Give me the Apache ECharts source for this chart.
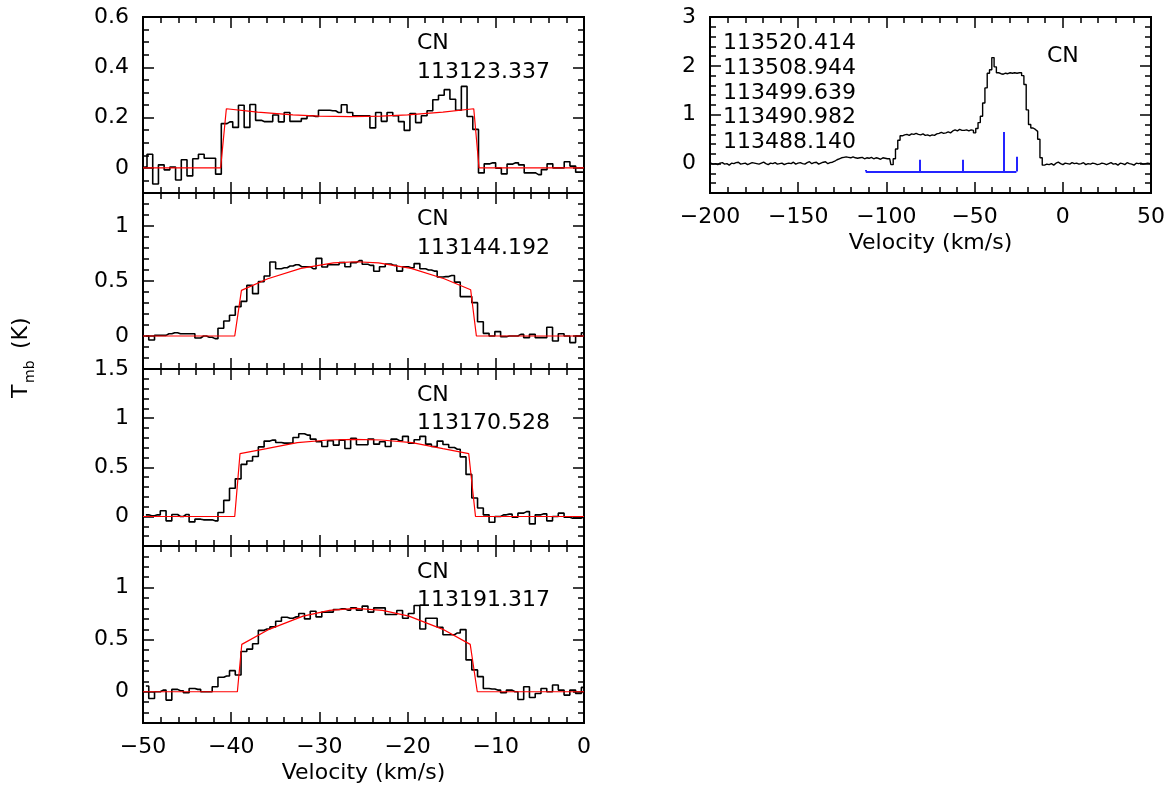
<!DOCTYPE html>
<html>
<head>
<meta charset="utf-8">
<script src="https://cdn.jsdelivr.net/npm/echarts@6/dist/echarts.min.js"></script>
<style>
  html, body { margin: 0; padding: 0; background: #fff; }
  #chart { width: 1169px; height: 789px; }
</style>
</head>
<body>
<div id="chart"></div>
<script>
// ---------------- data ----------------
// CN hyperfine lines, one spectrum per rest frequency (MHz), channels in km/s
const lineNames = ['113123.337', '113144.192', '113170.528', '113191.317'];

// first channel centre and channel width (km/s) for each spectrum
const chanStart = [-49.87, -49.675, -49.675, -49.675];
const chanWidth = [0.648, 0.654, 0.654, 0.654];

const spec113123 = [
  0.003, 0.054, -0.064, 0.012, -0.008, 0.003, -0.048, 0.032, -0.032, 0.036, 0.054, 0.038, 0.038, -0.025,
  0.176, 0.183, 0.161, 0.249, 0.161, 0.252, 0.189, 0.184, 0.184, 0.21, 0.183, 0.22, 0.185, 0.185, 0.196,
  0.207, 0.204, 0.229, 0.229, 0.227, 0.22, 0.251, 0.22, 0.207, 0.207, 0.207, 0.159, 0.22, 0.185, 0.22,
  0.207, 0.184, 0.149, 0.216, 0.18, 0.207, 0.227, 0.271, 0.289, 0.311, 0.273, 0.229, 0.324, 0.204, 0.153,
  -0.02, 0.016, 0.02, -0.001, -0.024, 0.015, 0.02, 0.012, -0.02, -0.02, -0.027, -0.007, 0.016, 0.0, 0.0,
  0.024, 0.007, -0.017, -0.017
];
const spec113144 = [
  0.0, -0.036, 0.006, 0.006, 0.02, 0.03, 0.02, 0.02, 0.02, -0.018, 0.0, -0.012, -0.024,
  0.07, 0.136, 0.188, 0.267, 0.315, 0.46, 0.385, 0.494, 0.545, 0.673, 0.612, 0.62, 0.636, 0.648, 0.63,
  0.63, 0.612, 0.706, 0.627, 0.648, 0.648, 0.667, 0.63, 0.667, 0.685, 0.652, 0.642, 0.588, 0.63, 0.655,
  0.642, 0.59, 0.63, 0.62, 0.658, 0.612, 0.6, 0.59, 0.536, 0.54, 0.55, 0.49, 0.358, 0.358, 0.303, 0.13, 0.024,
  0.0, 0.04, -0.006, 0.0, 0.0, 0.015, -0.015, 0.015, -0.015, -0.015, 0.08, -0.045, 0.02, 0.0, -0.06, 0.0, 0.03
];
const spec113170 = [
  0.017, 0.007, 0.017, 0.058, -0.044, 0.02, 0.0, 0.02, -0.055, -0.027, -0.034, -0.034, -0.044,
  0.04, 0.164, 0.287, 0.383, 0.53, 0.565, 0.61, 0.708, 0.767, 0.777, 0.753, 0.746, 0.746, 0.804, 0.842,
  0.828, 0.787, 0.76, 0.712, 0.77, 0.726, 0.777, 0.691, 0.794, 0.729, 0.729, 0.787, 0.736, 0.76, 0.712,
  0.787, 0.77, 0.815, 0.746, 0.78, 0.815, 0.736, 0.712, 0.767, 0.732, 0.702, 0.684, 0.606, 0.428, 0.188, 0.086, 0.017,
  -0.058, 0.0, 0.017, 0.024, -0.007, 0.034, 0.05, -0.075, 0.017, 0.027, -0.044, 0.0, 0.034, -0.007, -0.017, -0.017, 0.0
];
const spec113191 = [
  0.055, -0.065, 0.0, 0.016, -0.08, 0.023, 0.01, -0.01, 0.032, 0.023, 0.0, 0.0, 0.048,
  0.139, 0.152, 0.203, 0.161, 0.387, 0.41, 0.461, 0.59, 0.603, 0.623, 0.677, 0.716, 0.706, 0.719, 0.752,
  0.7, 0.774, 0.719, 0.765, 0.765, 0.79, 0.797, 0.784, 0.806, 0.784, 0.823, 0.765, 0.806, 0.806, 0.742,
  0.742, 0.781, 0.706, 0.752, 0.829, 0.603, 0.706, 0.706, 0.619, 0.548, 0.548, 0.565, 0.597, 0.306, 0.21, 0.145, 0.032,
  0.026, 0.016, -0.01, 0.016, 0.0, -0.074, 0.048, -0.055, -0.016, 0.032, 0.0, 0.065, 0.016, -0.032, 0.016, -0.016, 0.042
];
const spectra = [spec113123, spec113144, spec113170, spec113191];

// shell-profile fits (velocity, Tmb)
const fitVel = [
  [-50, -41.2, -40.55, -37, -33, -30, -26.5, -23, -20, -16, -12.5, -11.9, 0],
  [-50, -39.6, -38.84, -35.85, -32.1, -28.4, -25.85, -23.3, -19.6, -15.85, -12.85, -12.2, 0],
  [-50, -39.6, -39.0, -36, -32.5, -29, -26, -23, -19.5, -16, -13.07, -12.3, 0],
  [-50, -39.3, -38.8, -35.85, -31.85, -28.85, -25.85, -22.85, -19.85, -15.85, -12.9, -12.1, 0]
];
const fitTmb = [
  [0, 0, 0.235, 0.222, 0.211, 0.206, 0.204, 0.206, 0.211, 0.222, 0.235, 0, 0],
  [0, 0, 0.415, 0.52, 0.615, 0.665, 0.675, 0.665, 0.615, 0.52, 0.42, 0, 0],
  [0, 0, 0.64, 0.69, 0.752, 0.778, 0.785, 0.778, 0.752, 0.69, 0.64, 0, 0],
  [0, 0, 0.455, 0.594, 0.726, 0.781, 0.80, 0.781, 0.726, 0.594, 0.455, 0, 0]
];

// J=3/2-1/2 group, wide velocity range
const hfsNames = ['113520.414', '113508.944', '113499.639', '113490.982', '113488.140'];
const hfsChanStart = -199.5;
const hfsChanWidth = 1.3;
const specHfs = [
  0.01, -0.01, 0.0, -0.02, 0.01, 0.02, -0.01, 0.0, -0.03, 0.01,
  0.0, 0.02, 0.03, -0.01, 0.0, 0.01, -0.02, 0.0, 0.02, 0.01,
  0.0, -0.01, 0.01, 0.03, 0.0, -0.02, 0.01, 0.0, 0.02, -0.01,
  0.0, 0.01, -0.02, 0.0, 0.01, 0.0, 0.03, -0.01, 0.01, 0.02,
  0.0, -0.01, 0.02, 0.04, 0.0, 0.02, 0.03, -0.01, 0.01, 0.03,
  0.04, 0.0, 0.02,
  0.03, 0.05, 0.08, 0.10, 0.12, 0.13, 0.14,
  0.13, 0.12, 0.14, 0.12, 0.11, 0.12, 0.13, 0.10, 0.12, 0.11, 0.13, 0.10, 0.12, 0.11, 0.09, 0.12, 0.11, 0.10,
  0.10, -0.02, 0.10, 0.30, 0.48, 0.57, 0.59,
  0.60, 0.58, 0.61, 0.60, 0.62, 0.60, 0.59, 0.61, 0.58, 0.59, 0.57, 0.59, 0.58, 0.61, 0.62, 0.64,
  0.62, 0.63, 0.65, 0.63, 0.67, 0.69, 0.67, 0.70, 0.68, 0.68, 0.69, 0.67, 0.69, 0.68, 0.63,
  0.72, 0.84, 0.97, 1.24, 1.55, 1.85, 1.92, 2.17, 1.98, 1.86, 1.84, 1.83, 1.85, 1.84, 1.86, 1.85,
  1.86, 1.85, 1.86, 1.86, 1.80, 1.62, 1.10, 0.80, 0.73, 0.70, 0.66, 0.50, 0.12,
  -0.03, -0.01, -0.02, 0.0, -0.03, 0.01, 0.03, 0.0, -0.02, 0.01,
  0.0, -0.01, 0.02, 0.0, 0.01, -0.01, 0.0, 0.02, -0.02, 0.0,
  -0.01, 0.01, 0.0, -0.02, -0.01, 0.01, 0.0, -0.02, 0.0, 0.02,
  -0.01, 0.0, -0.03, 0.01, 0.0, -0.02, 0.02, 0.0, -0.01, -0.03,
  0.01, 0.0, 0.01, -0.01, 0.0, 0.01, 0.0, 0.01
];
// hyperfine component positions (km/s) and relative strengths drawn as a stick pattern
const hfsVel = [-111.7, -81.2, -56.8, -33.3, -26.3];
const hfsTop = [-0.13, 0.08, 0.08, 0.65, 0.14];
const hfsBase = -0.16;

// axis ranges and labelled tick values
const yRange = [[-0.1, 0.6], [-0.3, 1.3], [-0.3, 1.5], [-0.3, 1.4]];
const yMinorStep = [0.05, 0.1, 0.1, 0.1];
const yTickLabels = [[0, 0.2, 0.4, 0.6], [0, 0.5, 1], [0, 0.5, 1, 1.5], [0, 0.5, 1]];
const hfsYRange = [-0.6, 3];
const hfsYMinorStep = 0.2;
const hfsYTickLabels = [0, 1, 2, 3];
const velRange = [-50, 0];
const velStep = 10;
const hfsVelRange = [-200, 50];
const hfsVelStep = 50;

// ---------------- chart ----------------
const FONT = '"DejaVu Sans", "Liberation Sans", sans-serif';
const INK = '#000';
const fmt = v => (v < 0 ? '\u2212' + Math.abs(v) : String(v));

const leftBoxes = [
  { top: 17, height: 176 },
  { top: 193, height: 176 },
  { top: 369, height: 177 },
  { top: 546, height: 177 }
];
const grids = leftBoxes.map(b => ({ left: 143, width: 441, top: b.top, height: b.height, containLabel: false, outerBoundsMode: 'none' }));
grids.push({ left: 710, width: 441, top: 17, height: 176, containLabel: false, outerBoundsMode: 'none' });

const tickLine = { color: INK, width: 1.5 };
const labelStyle = { fontFamily: FONT, fontSize: 22, color: INK };

function xPair(g, range, step, showLabels, name) {
  const common = {
    type: 'value', gridIndex: g, min: range[0], max: range[1], interval: step,
    axisLine: { show: true, onZero: false, lineStyle: { color: INK, width: 2 } },
    axisTick: { show: true, inside: true, length: 11, lineStyle: tickLine },
    minorTick: { show: true, splitNumber: 5, length: 6, lineStyle: tickLine },
    splitLine: { show: false }, minorSplitLine: { show: false }
  };
  const bottom = Object.assign({}, common, {
    position: 'bottom',
    axisLabel: showLabels ? Object.assign({ show: true, margin: 13, formatter: fmt }, labelStyle) : { show: false }
  });
  if (name) {
    Object.assign(bottom, {
      name: name, nameLocation: 'middle', nameGap: 39,
      nameTextStyle: { fontFamily: FONT, fontSize: 22, color: INK }
    });
  }
  const top = Object.assign({}, common, { position: 'top', axisLabel: { show: false } });
  return [bottom, top];
}

function yQuad(g, range, minor, majors) {
  const base = {
    type: 'value', gridIndex: g, min: range[0], max: range[1],
    axisLine: { show: true, onZero: false, lineStyle: { color: INK, width: 2 } },
    splitLine: { show: false }, minorSplitLine: { show: false }
  };
  const major = side => Object.assign({}, base, {
    position: side,
    axisTick: { show: true, inside: true, length: 11, customValues: majors, lineStyle: tickLine },
    axisLabel: side === 'left'
      ? Object.assign({ show: true, margin: 14, customValues: majors, formatter: fmt }, labelStyle)
      : { show: false }
  });
  const minorAxis = side => Object.assign({}, base, {
    position: side, interval: minor,
    axisTick: { show: true, inside: true, length: 6, lineStyle: tickLine },
    axisLabel: { show: false }
  });
  return [major('left'), minorAxis('left'), major('right'), minorAxis('right')];
}

const xAxes = [];
const yAxes = [];
const series = [];

for (let g = 0; g < 4; g++) {
  xAxes.push(...xPair(g, velRange, velStep, g === 3, g === 3 ? 'Velocity (km/s)' : null));
  yAxes.push(...yQuad(g, yRange[g], yMinorStep[g], yTickLabels[g]));
  const data = spectra[g].map((t, i) => [chanStart[g] + i * chanWidth[g], t]);
  series.push({
    type: 'line', xAxisIndex: 2 * g, yAxisIndex: 4 * g, data: data,
    step: 'middle', symbol: 'none', clip: true,
    lineStyle: { color: INK, width: 1.6 }
  });
  series.push({
    type: 'line', xAxisIndex: 2 * g, yAxisIndex: 4 * g,
    data: fitVel[g].map((v, i) => [v, fitTmb[g][i]]),
    symbol: 'none', clip: true,
    lineStyle: { color: '#ff0000', width: 1.2 }
  });
}

// wide-band panel
xAxes.push(...xPair(4, hfsVelRange, hfsVelStep, true, 'Velocity (km/s)'));
yAxes.push(...yQuad(4, hfsYRange, hfsYMinorStep, hfsYTickLabels));
series.push({
  type: 'line', xAxisIndex: 8, yAxisIndex: 16,
  data: specHfs.map((t, i) => [hfsChanStart + i * hfsChanWidth, t]),
  step: 'middle', symbol: 'none', clip: true,
  lineStyle: { color: INK, width: 1.4 }
});
const stickLines = [[{ coord: [hfsVel[0], hfsBase] }, { coord: [hfsVel[hfsVel.length - 1], hfsBase] }]];
hfsVel.forEach((v, i) => stickLines.push([{ coord: [v, hfsBase] }, { coord: [v, hfsTop[i]] }]));
series.push({
  type: 'line', xAxisIndex: 8, yAxisIndex: 16, data: [],
  markLine: {
    silent: true, symbol: ['none', 'none'], label: { show: false },
    lineStyle: { color: '#2424ff', width: 2, type: 'solid' },
    emphasis: { disabled: true },
    data: stickLines
  }
});

// text annotations
const textFont = '22px ' + FONT;
const annoRows = [[43, 72], [219.5, 248.5], [395.5, 423.5], [572.5, 600]];
const graphics = [];
lineNames.forEach((name, i) => {
  graphics.push({ type: 'text', x: 417, y: annoRows[i][0], style: { text: 'CN', font: textFont, fill: INK, verticalAlign: 'middle' } });
  graphics.push({ type: 'text', x: 417, y: annoRows[i][1], style: { text: name, font: textFont, fill: INK, verticalAlign: 'middle' } });
});
hfsNames.forEach((name, i) => {
  graphics.push({ type: 'text', x: 723, y: 43 + i * 24.9, style: { text: name, font: textFont, fill: INK, verticalAlign: 'middle' } });
});
graphics.push({ type: 'text', x: 1047, y: 56.5, style: { text: 'CN', font: textFont, fill: INK, verticalAlign: 'middle' } });
// rotated y-axis title T_mb (K)
graphics.push({
  type: 'group', x: 21, y: 398, rotation: Math.PI / 2,
  children: [
    { type: 'text', x: 0, y: 0, style: { text: 'T', font: textFont, fill: INK, verticalAlign: 'middle' } },
    { type: 'text', x: 15, y: 9, style: { text: 'mb', font: '14px ' + FONT, fill: INK, verticalAlign: 'middle' } },
    { type: 'text', x: 49, y: 0, style: { text: '(K)', font: textFont, fill: INK, verticalAlign: 'middle' } }
  ]
});

const chart = echarts.init(document.getElementById('chart'), null, { renderer: 'canvas' });
chart.setOption({
  animation: false,
  backgroundColor: '#fff',
  grid: grids,
  xAxis: xAxes,
  yAxis: yAxes,
  series: series,
  graphic: graphics
});
</script>
</body>
</html>
